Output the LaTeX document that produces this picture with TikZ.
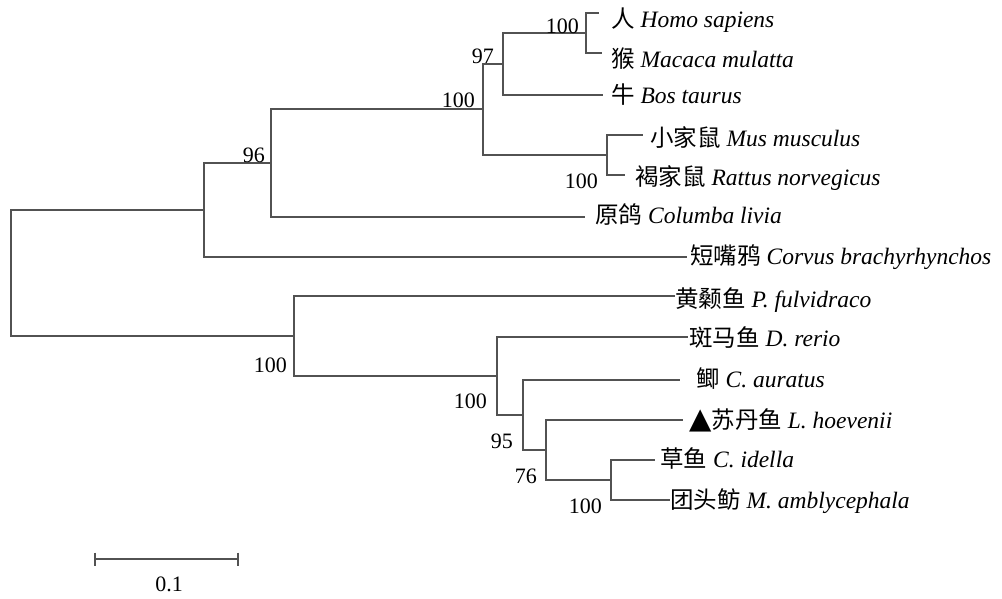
\documentclass[tikz,border=0pt]{standalone}
\usepackage{fontspec}
\setmainfont{Liberation Serif}
\newfontfamily\cjkf{Noto Sans CJK SC}
\newfontfamily\symf{DejaVu Sans}
\definecolor{linegray}{RGB}{82,82,82}
\newcommand\labfont{\fontsize{23.5}{23.5}\selectfont}
\newcommand\numfont{\fontsize{22}{22}\selectfont}
\newcommand\zh[1]{{\cjkf\fontsize{23.5}{23.5}\selectfont #1}}
\begin{document}
\begin{tikzpicture}[x=1pt,y=-1pt,
  br/.style={line width=2.2pt, draw=linegray},
  lab/.style={anchor=base west, inner sep=0pt, font=\labfont},
  bs/.style={anchor=base east, inner sep=0pt, font=\numfont}]
\useasboundingbox (0,0) rectangle (1002,598);
% tips
\coordinate (homo) at (599,13);
\coordinate (macaca) at (602,53);
\coordinate (bos) at (603,95);
\coordinate (mus) at (643,135);
\coordinate (rattus) at (625,175);
\coordinate (columba) at (585,217);
\coordinate (corvus) at (687,257);
\coordinate (pelteo) at (675,296);
\coordinate (danio) at (688,337);
\coordinate (carass) at (680,380);
\coordinate (lh) at (683,420);
\coordinate (cid) at (655,460);
\coordinate (mam) at (670,500);
% internal nodes
\coordinate (n1) at (586,33);
\coordinate (n2) at (503,64);
\coordinate (n3) at (607,155);
\coordinate (n4) at (483,109);
\coordinate (n5) at (271,163);
\coordinate (n6) at (204,210);
\coordinate (n11) at (611,480);
\coordinate (n10) at (546,450);
\coordinate (n9) at (523,415);
\coordinate (n8) at (497,376);
\coordinate (n7) at (294,336);
\coordinate (root) at (11,273);
% branches
\draw[br] (n1) |- (homo);
\draw[br] (n1) |- (macaca);
\draw[br] (n2) |- (n1);
\draw[br] (n2) |- (bos);
\draw[br] (n3) |- (mus);
\draw[br] (n3) |- (rattus);
\draw[br] (n4) |- (n2);
\draw[br] (n4) |- (n3);
\draw[br] (n5) |- (n4);
\draw[br] (n5) |- (columba);
\draw[br] (n6) |- (n5);
\draw[br] (n6) |- (corvus);
\draw[br] (n11) |- (cid);
\draw[br] (n11) |- (mam);
\draw[br] (n10) |- (lh);
\draw[br] (n10) |- (n11);
\draw[br] (n9) |- (carass);
\draw[br] (n9) |- (n10);
\draw[br] (n8) |- (danio);
\draw[br] (n8) |- (n9);
\draw[br] (n7) |- (pelteo);
\draw[br] (n7) |- (n8);
\draw[br] (root) |- (n6);
\draw[br] (root) |- (n7);
% leaf labels
\node[lab] (thomo) at (611,27) {\zh{人} \textit{Homo sapiens}};
\node[lab] (tmacaca) at (611,67) {\zh{猴} \textit{Macaca mulatta}};
\node[lab] (tbos) at (611,103) {\zh{牛} \textit{Bos taurus}};
\node[lab] (tmus) at (650,146) {\zh{小家鼠} \textit{Mus musculus}};
\node[lab] (trattus) at (635,185) {\zh{褐家鼠} \textit{Rattus norvegicus}};
\node[lab] (tcolumba) at (595,223) {\zh{原鸽} \textit{Columba livia}};
\node[lab] (tcorvus) at (690,264) {\zh{短嘴鸦} \textit{Corvus brachyrhynchos}};
\node[lab] (tpelteo) at (675,307) {\zh{黄颡鱼} \textit{P. fulvidraco}};
\node[lab] (tdanio) at (689,346) {\zh{斑马鱼} \textit{D. rerio}};
\node[lab] (tcarass) at (696,387) {\zh{鲫} \textit{C. auratus}};
\node[lab] (tlh) at (689,428) {{\symf\fontsize{29}{29}\selectfont ▲}\zh{苏丹鱼} \textit{L. hoevenii}};
\node[lab] (tcid) at (660,467) {\zh{草鱼} \textit{C. idella}};
\node[lab] (tmam) at (670,508) {\zh{团头鲂} \textit{M. amblycephala}};
% bootstrap values
\node[bs] (b1) at (579,33) {100};
\node[bs] (b2) at (494,63) {97};
\node[bs] (b3) at (475,107) {100};
\node[bs] (b4) at (598,188) {100};
\node[bs] (b5) at (265,162) {96};
\node[bs] (b6) at (287,372) {100};
\node[bs] (b7) at (487,408) {100};
\node[bs] (b8) at (513,448) {95};
\node[bs] (b9) at (537,483) {76};
\node[bs] (b10) at (602,513) {100};
% scale bar
\coordinate (sb1) at (95,559);
\coordinate (sb2) at (238,559);
\draw[br] (sb1) -- (sb2);
\draw[br] (sb1) ++(0,-6.5) -- ++(0,13);
\draw[br] (sb2) ++(0,-6.5) -- ++(0,13);
\node[font=\numfont, inner sep=0pt] (sblab) at (169,584) {0.1};
\end{tikzpicture}
\end{document}
